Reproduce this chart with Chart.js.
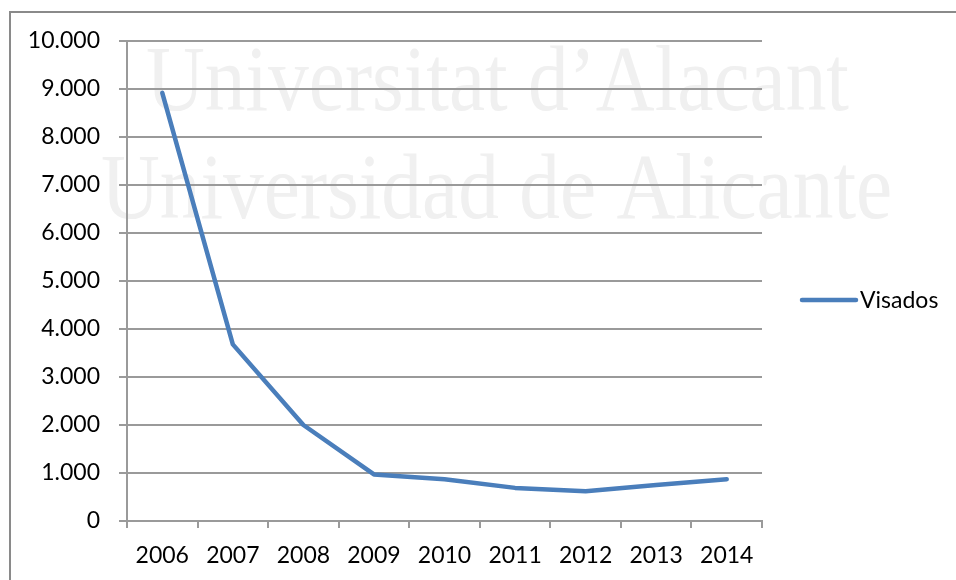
<!DOCTYPE html>
<html>
<head>
<meta charset="utf-8">
<script src="https://cdn.jsdelivr.net/npm/chart.js@4/dist/chart.umd.min.js"></script>
<style>
  html, body { margin: 0; padding: 0; background: #fff; }
  body { width: 956px; height: 580px; position: relative; overflow: hidden; }
  .frame {
    position: absolute; left: 9px; top: 11px; right: -10px; bottom: -10px;
    border-top: 2px solid #8a8a8a; border-left: 2px solid #8a8a8a;
  }
  .wrap { position: absolute; left: 0; top: 0; width: 956px; height: 580px; }
</style>
</head>
<body>
<div class="frame"></div>
<div class="wrap"><canvas id="visadosChart" width="956" height="580"></canvas></div>
<script>
const years = ["2006", "2007", "2008", "2009", "2010", "2011", "2012", "2013", "2014"];
const visados = [8920, 3680, 2000, 970, 870, 690, 620, 750, 870];
const yTickLabels = ["0", "1.000", "2.000", "3.000", "4.000", "5.000", "6.000", "7.000", "8.000", "9.000", "10.000"];
const seriesName = "Visados";
const watermark = ["Universitat d\u2019Alacant", "Universidad de Alicante"];

const lineColor = "#4a7ebb";
const gridColor = "#9a9a9a";
const font = { family: "Lato", size: 23 };

// faint watermark behind the plot
const watermarkPlugin = {
  id: "watermark",
  beforeDraw(chart) {
    const ctx = chart.ctx;
    ctx.save();
    ctx.fillStyle = "#f0f0f0";
    ctx.font = "94px 'Liberation Serif'";
    ctx.textBaseline = "alphabetic";
    const spots = [[146, 110], [101, 218]];
    watermark.forEach((txt, i) => {
      ctx.save();
      ctx.translate(spots[i][0], spots[i][1]);
      ctx.scale(0.866, 1);
      ctx.fillText(txt, 0, 0);
      ctx.restore();
    });
    ctx.restore();
  }
};

// legend drawn to the right of the plot, like the Excel one
const sideLegend = {
  id: "sideLegend",
  afterDraw(chart) {
    const ctx = chart.ctx;
    const y = 300;
    ctx.save();
    ctx.strokeStyle = lineColor;
    ctx.lineWidth = 4.5;
    ctx.lineCap = "round";
    ctx.beginPath();
    ctx.moveTo(802, y);
    ctx.lineTo(856, y);
    ctx.stroke();
    ctx.fillStyle = "#000";
    ctx.font = "23px Lato";
    ctx.textBaseline = "middle";
    ctx.fillText(seriesName, 860, y + 1);
    ctx.restore();
  }
};

Chart.defaults.color = "#000";
Chart.defaults.font.family = "Lato";

new Chart(document.getElementById("visadosChart"), {
  type: "line",
  data: {
    labels: years,
    datasets: [{
      label: seriesName,
      data: visados,
      borderColor: lineColor,
      backgroundColor: lineColor,
      borderWidth: 4.5,
      borderCapStyle: "round",
      borderJoinStyle: "round",
      pointRadius: 0,
      tension: 0
    }]
  },
  options: {
    responsive: false,
    animation: false,
    layout: { padding: { left: 0, top: 41, right: 194, bottom: 0 } },
    plugins: {
      legend: { display: false },
      tooltip: { enabled: false }
    },
    scales: {
      x: {
        offset: true,
        grid: {
          offset: true,
          drawOnChartArea: false,
          drawTicks: true,
          tickLength: 7,
          color: gridColor,
          lineWidth: 2
        },
        border: { color: gridColor, width: 2 },
        ticks: { font, padding: 14, maxRotation: 0 },
        afterFit: s => { s.height = 59; }
      },
      y: {
        min: 0,
        max: 10000,
        grid: {
          color: gridColor,
          lineWidth: 2,
          tickLength: 8
        },
        border: { color: gridColor, width: 2 },
        ticks: {
          stepSize: 1000,
          font,
          padding: 19,
          callback: (v, i) => yTickLabels[i]
        },
        afterFit: s => { s.width = 127; }
      }
    }
  },
  plugins: [watermarkPlugin, sideLegend]
});
</script>
</body>
</html>
